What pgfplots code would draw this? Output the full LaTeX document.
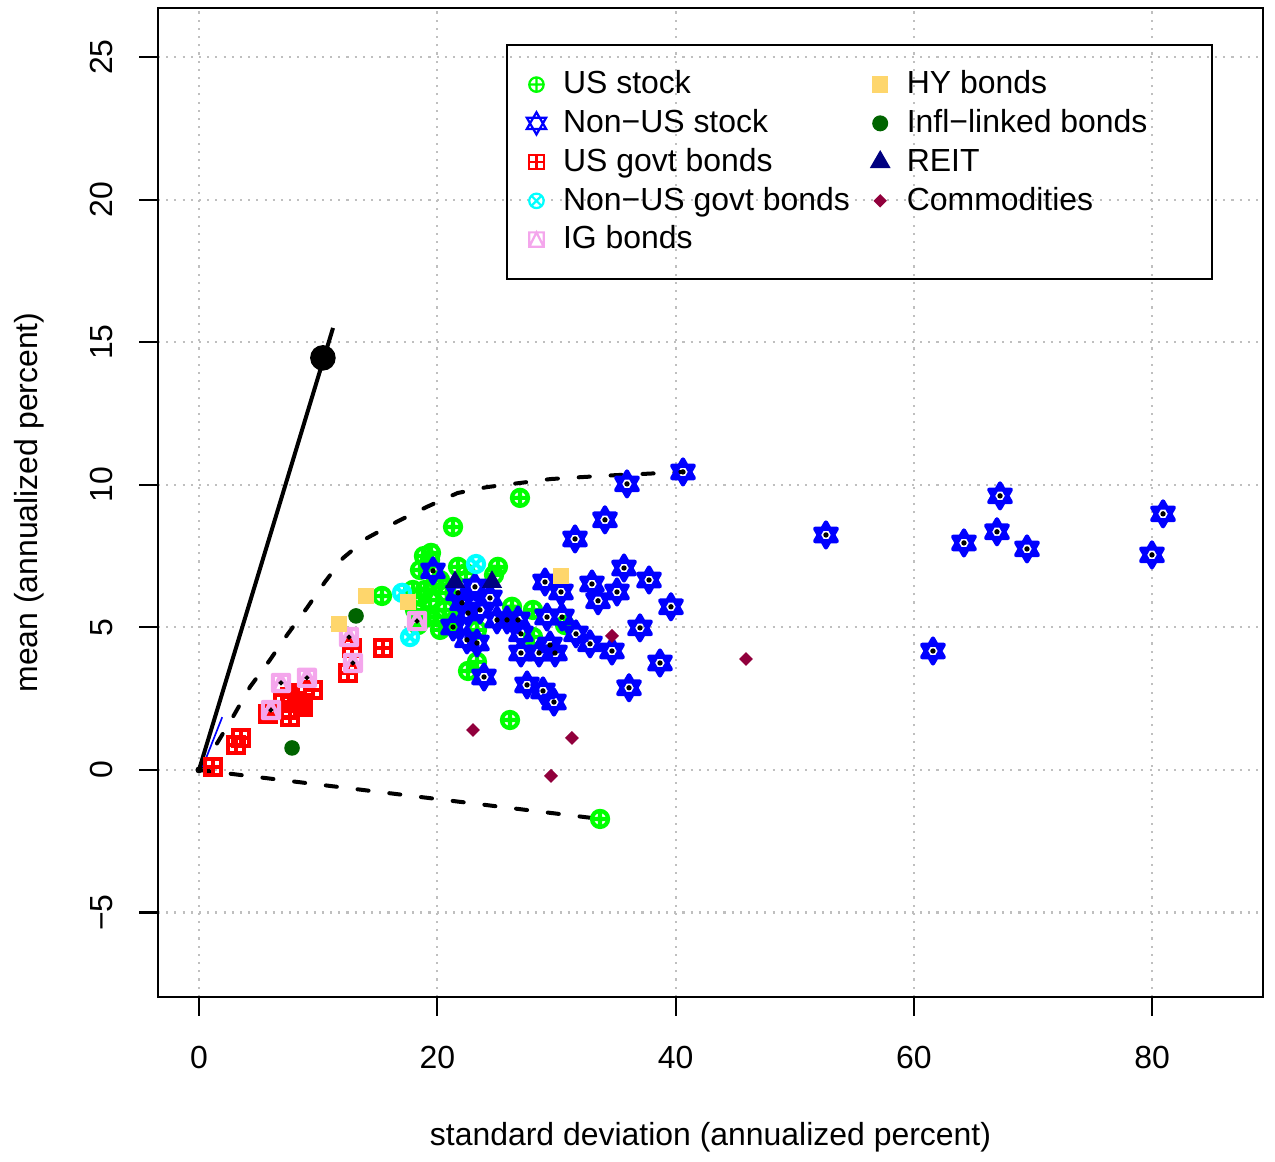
\documentclass[border=0pt]{standalone}
\usepackage{fontspec}
\setmainfont{Liberation Sans}
\usepackage{pgfplots}
\usepackage{pgfplotstable}
\pgfplotsset{compat=1.18}
\usetikzlibrary{plotmarks}

\definecolor{usgreen}{RGB}{0,255,0}
\definecolor{nonusblue}{RGB}{0,0,255}
\definecolor{govred}{RGB}{255,0,0}
\definecolor{govcyan}{RGB}{0,255,255}
\definecolor{igpink}{RGB}{244,166,236}
\definecolor{hyyellow}{RGB}{254,214,108}
\definecolor{infgreen}{RGB}{0,100,0}
\definecolor{reitnavy}{RGB}{0,0,128}
\definecolor{commod}{RGB}{145,0,60}

\pgfdeclareplotmark{dstar}{%
  \pgfpathmoveto{\pgfqpointpolar{90}{\pgfplotmarksize}}%
  \pgfpathlineto{\pgfqpointpolar{210}{\pgfplotmarksize}}%
  \pgfpathlineto{\pgfqpointpolar{330}{\pgfplotmarksize}}%
  \pgfpathclose
  \pgfpathmoveto{\pgfqpointpolar{270}{\pgfplotmarksize}}%
  \pgfpathlineto{\pgfqpointpolar{30}{\pgfplotmarksize}}%
  \pgfpathlineto{\pgfqpointpolar{150}{\pgfplotmarksize}}%
  \pgfpathclose
  \pgfusepathqstroke}
\pgfdeclareplotmark{boxplus}{%
  \pgfpathrectangle{\pgfqpoint{-\pgfplotmarksize}{-\pgfplotmarksize}}{\pgfqpoint{2\pgfplotmarksize}{2\pgfplotmarksize}}%
  \pgfpathmoveto{\pgfqpoint{-\pgfplotmarksize}{0pt}}\pgfpathlineto{\pgfqpoint{\pgfplotmarksize}{0pt}}%
  \pgfpathmoveto{\pgfqpoint{0pt}{-\pgfplotmarksize}}\pgfpathlineto{\pgfqpoint{0pt}{\pgfplotmarksize}}%
  \pgfusepathqstroke}
\pgfdeclareplotmark{boxtri}{%
  \pgfpathrectangle{\pgfqpoint{-\pgfplotmarksize}{-\pgfplotmarksize}}{\pgfqpoint{2\pgfplotmarksize}{2\pgfplotmarksize}}%
  \pgfpathmoveto{\pgfqpoint{-\pgfplotmarksize}{-\pgfplotmarksize}}%
  \pgfpathlineto{\pgfqpoint{0pt}{\pgfplotmarksize}}%
  \pgfpathlineto{\pgfqpoint{\pgfplotmarksize}{-\pgfplotmarksize}}%
  \pgfusepathqstroke}
\pgfdeclareplotmark{rdiamond}{%
  \pgfpathmoveto{\pgfqpoint{0pt}{\pgfplotmarksize}}%
  \pgfpathlineto{\pgfqpoint{\pgfplotmarksize}{0pt}}%
  \pgfpathlineto{\pgfqpoint{0pt}{-\pgfplotmarksize}}%
  \pgfpathlineto{\pgfqpoint{-\pgfplotmarksize}{0pt}}%
  \pgfpathclose
  \pgfusepathqfill}

\pgfplotstableread{
x y
26.94 9.54
21.32 8.52
19.47 7.61
18.88 7.50
15.36 6.10
26.10 1.75
33.66 -1.72
22.58 3.47
23.33 3.79
26.27 5.72
25.09 7.12
24.76 6.84
18.55 7.01
21.74 7.12
18.55 6.07
19.97 5.36
19.14 5.36
20.23 4.91
23.33 4.91
28.03 5.61
30.72 5.08
28.03 4.66
18.97 6.31
20.23 6.66
18.13 5.61
19.39 5.96
20.65 5.61
18.38 5.08
21.49 5.26
19.39 7.36
17.96 6.31
20.80 6.20
19.80 6.50
22.40 6.90
21.00 5.10
}\usstock

\pgfplotstableread{
x y
40.62 10.45
35.92 10.03
34.07 8.77
31.56 8.10
52.62 8.24
67.23 9.61
66.97 8.35
64.20 7.96
69.49 7.75
80.91 8.98
79.98 7.54
61.60 4.17
19.64 6.98
35.67 7.08
37.77 6.66
32.98 6.52
35.08 6.24
33.49 5.93
29.04 6.59
30.38 6.24
39.61 5.72
37.01 4.98
34.66 4.17
32.82 4.42
38.69 3.75
36.09 2.88
23.92 3.26
27.53 2.98
28.87 2.77
29.79 2.38
24.42 6.03
31.64 4.77
25.01 5.26
26.77 5.26
27.02 4.77
30.47 5.36
29.21 5.36
28.54 4.10
27.02 4.10
29.88 4.10
22.58 5.50
21.32 5.01
23.33 4.45
22.49 4.56
22.07 5.86
23.58 5.61
21.74 6.21
23.16 6.42
25.85 5.26
29.46 4.38
}\nonusstock

\pgfplotstableread{
x y
1.17 0.11
3.11 0.88
3.52 1.12
5.79 1.96
7.05 2.35
7.64 2.10
7.64 2.56
8.64 2.35
9.57 2.81
8.22 2.70
7.64 1.86
8.73 2.21
12.51 3.40
12.84 4.28
15.44 4.28
}\usgovt

\pgfplotstableread{
x y
17.04 6.21
17.71 4.66
23.25 7.22
}\nonusgovt

\pgfplotstableread{
x y
6.04 2.10
6.88 3.05
9.06 3.23
12.59 4.66
12.92 3.75
18.30 5.22
}\igbonds

\pgfplotstableread{
x y
14.02 6.10
11.75 5.12
17.54 5.89
30.38 6.80
}\hybonds

\pgfplotstableread{
x y
13.18 5.40
7.81 0.77
}\infl

\pgfplotstableread{
x y
21.49 6.59
24.59 6.59
}\reit

\pgfplotstableread{
x y
34.66 4.70
45.91 3.89
23.00 1.40
31.30 1.12
29.54 -0.21
}\commod

\pgfplotstableread{
x y
0 0
1.34 0.81
2.85 1.86
4.28 2.91
5.96 3.86
7.39 4.73
9.06 5.68
10.57 6.59
12.09 7.43
14.10 8.13
16.60 8.70
19.10 9.22
21.70 9.71
24.20 9.92
26.90 10.06
29.50 10.20
32.20 10.27
35.10 10.34
37.30 10.38
40.60 10.45
}\upperfront

\pgfplotstableread{
x y
0 0
33.66 -1.72
}\lowerfront

\pgfplotstableread{
x y
0 0
11.25 15.50
}\tangent

\begin{document}
\begin{tikzpicture}[font=\fontsize{11.5}{13.8}\selectfont]
\begin{axis}[
  width=397.8pt, height=356pt, scale only axis,
  xmin=-3.44, xmax=89.3, ymin=-7.96, ymax=26.72,
  xtick={0,20,40,60,80}, xticklabels={0,20,40,60,80},
  ytick={-5,0,5,10,15,20,25}, yticklabels={−5,0,5,10,15,20,25},
  tick pos=left, tick align=outside, major tick length=6.8pt,
  tick style={black, line width=0.75pt},
  axis line style={black, line width=0.9pt},
  grid=major,
  major grid style={lightgray, line width=0.75pt, dash pattern=on 0.75pt off 2.2pt},
  xticklabel style={anchor=base}, xticklabel shift=18.9pt,
  yticklabel style={rotate=90, anchor=base}, yticklabel shift=9.4pt,
  xlabel={standard deviation (annualized percent)},
  ylabel={mean (annualized percent)},
  every axis x label/.style={at={(axis description cs:0.5,-0.1506)}, anchor=base},
  every axis y label/.style={at={(axis description cs:-0.1086,0.5)}, anchor=base, rotate=90},
  legend columns=2, legend cell align=left,
  legend style={at={(axis cs:25.77,25.46)}, anchor=north west, draw=black,
    line width=0.75pt, fill=none, inner xsep=5.2pt, inner ysep=7.3pt,
    column sep=4.2pt, row sep=0pt,
    nodes={inner sep=0pt, text height=10.35pt, text depth=3.6pt}},
  legend image code/.code={\draw[#1] plot coordinates {(0pt,0pt)}; \path (-5pt,0pt) (5pt,0pt);},
]
% frontier and tangent lines
\addplot[forget plot, no markers, black, line width=1.44pt, line cap=round,
  dash pattern=on 4pt off 7.5pt] table {\upperfront};
\addplot[forget plot, no markers, black, line width=1.44pt, line cap=round,
  dash pattern=on 4pt off 7.5pt] table {\lowerfront};
\addplot[forget plot, no markers, nonusblue, line width=0.6pt] coordinates {(0.3,0.1) (1.95,1.85)};
\addplot[forget plot, no markers, black, line width=1.44pt] table {\tangent};
\addplot[forget plot, only marks, mark=o, mark size=1pt, black, mark options={line width=0.5pt}] coordinates {(0,0)};
\addplot[forget plot, only marks, mark=*, mark size=4.4pt, black] coordinates {(10.4,14.45)};
% asset classes
\addplot[forget plot, only marks, mark=oplus, mark size=2.9pt, usgreen,
  mark options={line width=1.5pt}] table {\usstock};
\addplot[forget plot, only marks, mark=dstar, mark size=4.5pt, nonusblue,
  mark options={line width=1.5pt, line join=round}] table {\nonusstock};
\addplot[forget plot, only marks, mark=*, mark size=0.75pt, black] table {\nonusstock};
\addplot[forget plot, only marks, mark=boxplus, mark size=2.9pt, govred,
  mark options={line width=1.5pt}] table {\usgovt};
\addplot[forget plot, only marks, mark=otimes, mark size=2.9pt, govcyan,
  mark options={line width=1.5pt}] table {\nonusgovt};
\addplot[forget plot, only marks, mark=boxtri, mark size=2.9pt, igpink,
  mark options={line width=1.5pt, line join=round}] table {\igbonds};
\addplot[forget plot, only marks, mark=*, mark size=0.7pt, black] table {\igbonds};
\addplot[forget plot, only marks, mark=square*, mark size=2.75pt, hyyellow,
  mark options={draw=none}] table {\hybonds};
\addplot[forget plot, only marks, mark=*, mark size=2.6pt, infgreen,
  mark options={draw=none}] table {\infl};
\addplot[forget plot, only marks, mark=triangle*, mark size=3.8pt, reitnavy,
  mark options={draw=none}] table {\reit};
\addplot[forget plot, only marks, mark=rdiamond, mark size=2.5pt, commod] table {\commod};
% legend (column-major order of the original)
\addlegendimage{only marks, mark=oplus, mark size=2.6pt, usgreen, mark options={line width=0.8pt}}
\addlegendentry{\makebox[104.6pt][l]{US stock}}
\addlegendimage{only marks, mark=square*, mark size=2.6pt, hyyellow, mark options={draw=none}}
\addlegendentry{\makebox[104.6pt][l]{HY bonds}}
\addlegendimage{only marks, mark=dstar, mark size=4pt, nonusblue, mark options={line width=0.8pt}}
\addlegendentry{\makebox[104.6pt][l]{Non−US stock}}
\addlegendimage{only marks, mark=*, mark size=2.5pt, infgreen, mark options={draw=none}}
\addlegendentry{\makebox[104.6pt][l]{Infl−linked bonds}}
\addlegendimage{only marks, mark=boxplus, mark size=2.6pt, govred, mark options={line width=0.8pt}}
\addlegendentry{\makebox[104.6pt][l]{US govt bonds}}
\addlegendimage{only marks, mark=triangle*, mark size=3.6pt, reitnavy, mark options={draw=none}}
\addlegendentry{\makebox[104.6pt][l]{REIT}}
\addlegendimage{only marks, mark=otimes, mark size=2.6pt, govcyan, mark options={line width=0.8pt}}
\addlegendentry{\makebox[104.6pt][l]{Non−US govt bonds}}
\addlegendimage{only marks, mark=rdiamond, mark size=2.4pt, commod}
\addlegendentry{\makebox[104.6pt][l]{Commodities}}
\addlegendimage{only marks, mark=boxtri, mark size=2.6pt, igpink, mark options={line width=0.8pt}}
\addlegendentry{\makebox[104.6pt][l]{IG bonds}}
\end{axis}
\path (current axis.south west) ++(-56.88pt,-57.6pt) coordinate (bl);
\path (current axis.north east) ++(4.32pt,2.88pt) coordinate (tr);
\path (bl) rectangle (tr);
\end{tikzpicture}
\end{document}
